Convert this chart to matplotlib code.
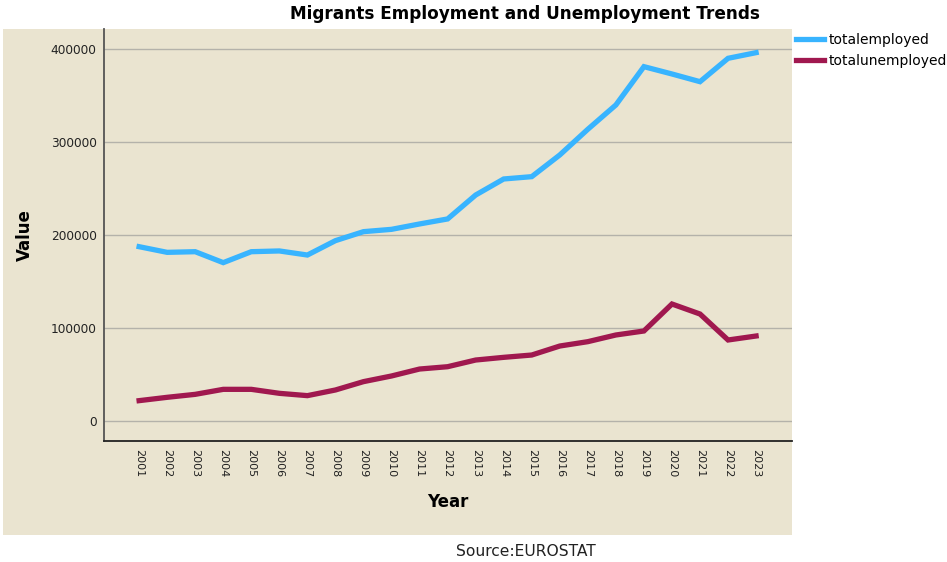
import matplotlib
matplotlib.use("Agg")
import matplotlib.pyplot as plt
from matplotlib.patches import Rectangle

plt.rcParams['font.family'] = ['DejaVu Sans']

years = [str(y) for y in range(2001, 2024)]
total_employed = [187400, 181300, 182000, 170200, 182000, 182800, 178400,
                  193900, 203600, 206100, 211900, 217300, 243100, 260400,
                  262900, 286300, 314000, 340200, 381500, 373600, 365300,
                  390500, 396600]
total_unemployed = [21400, 25000, 28200, 33600, 33600, 29300, 26800,
                    32900, 41900, 48000, 55500, 58000, 65200, 68100,
                    70600, 80300, 85000, 92200, 96500, 125600, 114800,
                    86800, 91100]
y_ticks = [0, 100000, 200000, 300000, 400000]

W, H = 947, 562
bg = "#EAE4D0"

fig = plt.figure(figsize=(W / 100, H / 100), dpi=100)

# beige panel behind the axes and axis labels
fig.patches.append(Rectangle((3 / W, 1 - 535 / H), (792 - 3) / W, (535 - 29) / H,
                             transform=fig.transFigure, facecolor=bg,
                             edgecolor="none", zorder=-5))

ax = fig.add_axes([103.5 / W, 1 - 441 / H, (792 - 103.5) / W, (441 - 29) / H])
ax.patch.set_alpha(0)

x = list(range(len(years)))
ax.plot(x, total_employed, color="#38B4FF", lw=3.8, label="totalemployed",
        solid_joinstyle="miter", zorder=3)
ax.plot(x, total_unemployed, color="#A0184F", lw=3.8, label="totalunemployed",
        solid_joinstyle="miter", zorder=3)

ax.set_xlim(-1.27, len(years) - 1 + 1.28)
ax.set_ylim(-22100, 422100)
ax.set_yticks(y_ticks)
ax.set_yticklabels([str(v) for v in y_ticks], fontsize=8.7, color="#222222")
ax.set_xticks(x)
ax.set_xticklabels(years, rotation=-90, fontsize=8, color="#222222")
ax.tick_params(axis="both", length=0, pad=5)
ax.tick_params(axis="x", pad=6)
ax.yaxis.grid(True, color="#B4B2AA", lw=1)
ax.set_axisbelow(True)

for s in ["top", "right"]:
    ax.spines[s].set_visible(False)
ax.spines["left"].set_color("#555555")
ax.spines["bottom"].set_color("#222222")
ax.spines["left"].set_linewidth(1.3)
ax.spines["bottom"].set_linewidth(1.3)

fig.text(525 / W, 1 - 14 / H, "Migrants Employment and Unemployment Trends",
         ha="center", va="center", fontsize=12.2, fontweight="bold")
fig.text(25 / W, 1 - 235 / H, "Value", rotation=90, ha="center", va="center",
         fontsize=12, fontweight="bold")
fig.text(448 / W, 1 - 502 / H, "Year", ha="center", va="center",
         fontsize=12, fontweight="bold")
fig.text(526 / W, 1 - 551 / H, "Source:EUROSTAT", ha="center", va="center",
         fontsize=11.2, color="#222222")

fig.legend(loc="upper left", bbox_to_anchor=(796 / W, 1 - 33 / H),
           frameon=False, fontsize=10, handlelength=2.0, handletextpad=0.35,
           labelspacing=0.5, borderaxespad=0, borderpad=0)

fig.savefig("out.png", dpi=100)
